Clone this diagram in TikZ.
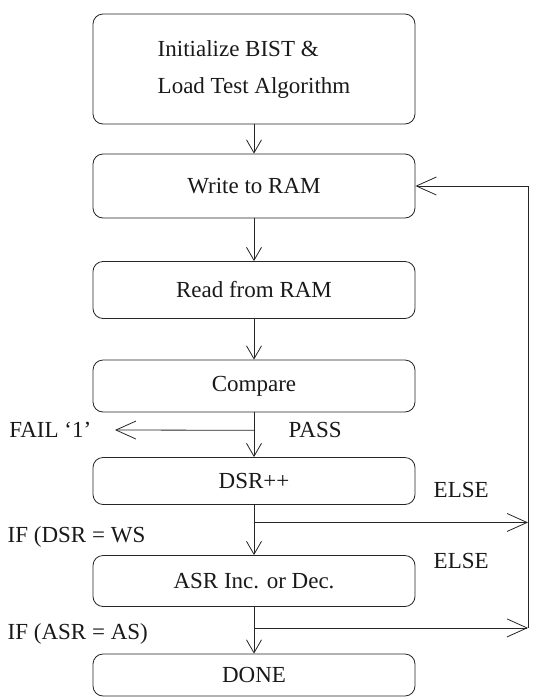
\documentclass[tikz,border=0pt]{standalone}
\usepackage{fontspec}
\setmainfont{Liberation Serif}
\usetikzlibrary{arrows.meta, calc}

\begin{document}
\begin{tikzpicture}[x=1pt, y=-1pt, line width=0.8pt, draw=black!85, text=black!90,
  box/.style={draw, rounded corners=10pt, minimum width=322pt, inner sep=0pt},
  down/.style={-{Straight Barb[length=13pt, width=15pt]}},
  side/.style={-{Straight Barb[length=20pt, width=18pt]}},
  lbl/.style={font=\fontsize{23}{27}\selectfont}]
\useasboundingbox (0,0) rectangle (534,697);

% Steps
\node [box, lbl, minimum height=110pt, align=left] (init) at (254,69) {Initialize BIST \&\\[10pt]Load Test Algorithm};
\node [box, lbl, minimum height=64pt] (write) at (254,186) {Write to RAM};
\node [box, lbl, minimum height=57pt] (read) at (254,290) {Read from RAM};
\node [box, lbl, minimum height=52pt] (cmp) at (254,386) {Compare};
\node [box, lbl, minimum height=47pt] (dsr) at (254,481) {DSR++};
\node [box, lbl, minimum height=51pt] (asr) at (254,581) {ASR Inc. or Dec.};
\node [box, lbl, minimum height=42pt] (done) at (254,675) {DONE};

% Main flow
\draw [down] (init) -- (write);
\draw [down] (write) -- (read);
\draw [down] (read) -- (cmp);
\draw [down] (cmp) -- (dsr);
\draw [down] (dsr) -- (asr);
\draw [down] (asr) -- (done);

% Fail branch
\coordinate (f) at ($(cmp.south)!0.4!(dsr.north)$);
\coordinate (ftip) at (115,430);
\draw [side] (f) -- (ftip);
\node [lbl, anchor=east] (fail) at (ftip -| 95,0) {FAIL `1'};
\node [lbl, anchor=west] (pass) at (285,430) {PASS};

% Loop back
\coordinate (d1) at ($(dsr.south)!0.35!(asr.north)$);
\coordinate (d2) at ($(asr.south)!0.45!(done.north)$);
\coordinate (r1) at (d1 -| 528,0);
\coordinate (r2) at (d2 -| 528,0);
\coordinate (rtop) at (write.east -| r2);
\draw [side] (d1) -- (r1);
\draw [side] (d2) -- (r2);
\draw [side] (r2) -- (rtop) -- (write.east);

% Labels
\node [lbl, anchor=west] (else1) at (430,490) {ELSE};
\node [lbl, anchor=west] (else2) at (430,561) {ELSE};
\node [lbl, anchor=west] (ifdsr) at (4,537) {IF (DSR = WS};
\node [lbl, anchor=west] (ifasr) at (4,634) {IF (ASR = AS)};

\end{tikzpicture}
\end{document}
